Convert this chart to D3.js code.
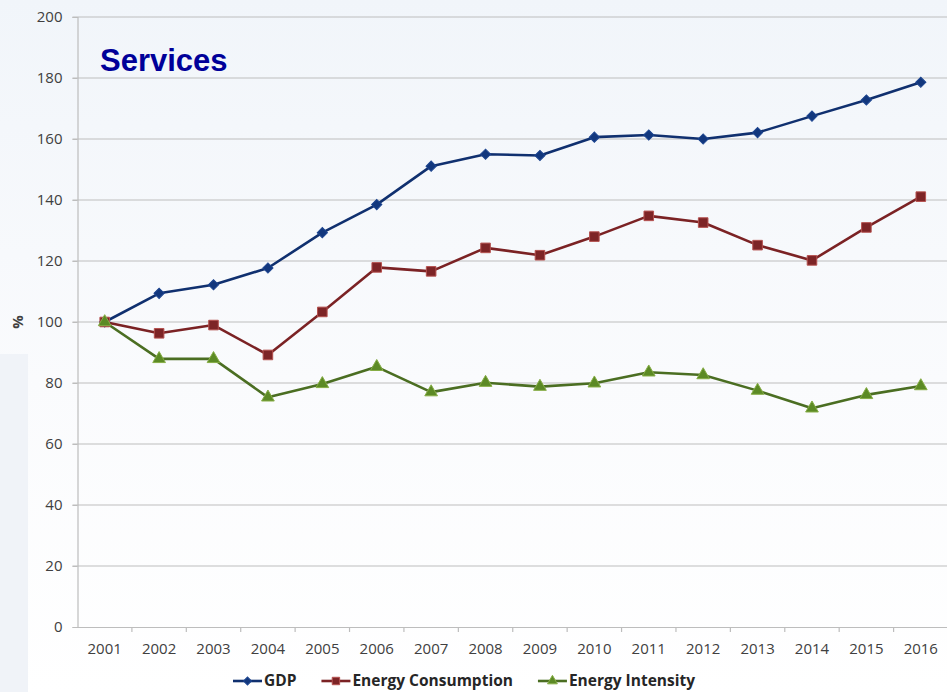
<!DOCTYPE html>
<html>
<head>
<meta charset="utf-8">
<script src="https://cdn.jsdelivr.net/npm/d3@7"></script>
<style>
  body { margin: 0; background: #ffffff; }
  svg { display: block; }
</style>
</head>
<body>
<div id="chart"></div>
<script>
// Services: GDP, energy consumption and energy intensity, index 2001 = 100
var years = ['2001', '2002', '2003', '2004', '2005', '2006', '2007', '2008',
  '2009', '2010', '2011', '2012', '2013', '2014', '2015', '2016'];
var gdp = [100, 109.4, 112.2, 117.7, 129.3, 138.5, 151.1, 155.0,
  154.6, 160.6, 161.3, 160.0, 162.1, 167.5, 172.8, 178.6];
var energy_consumption = [100, 96.3, 99.0, 89.2, 103.3, 117.9, 116.6, 124.3,
  121.9, 128.0, 134.8, 132.6, 125.2, 120.2, 131.0, 141.1];
var energy_intensity = [100, 87.9, 87.9, 75.3, 79.7, 85.3, 77.0, 80.1,
  78.8, 79.9, 83.5, 82.6, 77.5, 71.7, 76.1, 79.0];
var y_ticks = [0, 20, 40, 60, 80, 100, 120, 140, 160, 180, 200];
var series_names = ['GDP', 'Energy Consumption', 'Energy Intensity'];

var width = 947, height = 692;
var plot = {left: 77.5, right: 948, top: 17, bottom: 627};

// diamond = square turned 45 degrees
var series = [
  {name: series_names[0], values: gdp, line: '#10306f', fill: '#12377d', stroke: '#1d4590', symbol: d3.symbolSquare, size: 52, rotate: 45},
  {name: series_names[1], values: energy_consumption, line: '#7b2224', fill: '#7d2426', stroke: '#b5514f', symbol: d3.symbolSquare, size: 92, rotate: 0},
  {name: series_names[2], values: energy_intensity, line: '#4b6e22', fill: '#5c8a25', stroke: '#86ad45', symbol: d3.symbolTriangle, size: 70, rotate: 0}
];

var svg = d3.select('div#chart')
  .append('svg')
  .attr('width', width)
  .attr('height', height);

// slide-like background
var defs = svg.append('defs');
var grad = defs.append('linearGradient')
  .attr('id', 'bg')
  .attr('x1', 0).attr('y1', 0).attr('x2', 0).attr('y2', 1);
grad.append('stop').attr('offset', '0%').attr('stop-color', '#f1f5fa');
grad.append('stop').attr('offset', '55%').attr('stop-color', '#fafbfd');
grad.append('stop').attr('offset', '100%').attr('stop-color', '#ffffff');

svg.append('rect')
  .attr('width', width)
  .attr('height', height)
  .attr('fill', 'url(#bg)');

// faint panel peeking in at the left edge
svg.append('rect')
  .attr('x', 0).attr('y', 354)
  .attr('width', 28).attr('height', height - 354)
  .attr('fill', '#f0f3f8');

var x = d3.scaleBand()
  .domain(years)
  .range([plot.left, plot.right]);

var y = d3.scaleLinear()
  .domain([0, 200])
  .range([plot.bottom, plot.top]);

// gridlines
svg.append('g')
  .selectAll('line')
  .data(y_ticks.filter(function(d) { return d > 0; }))
  .enter()
  .append('line')
  .attr('x1', plot.left - 5)
  .attr('x2', width)
  .attr('y1', function(d) { return y(d); })
  .attr('y2', function(d) { return y(d); })
  .attr('stroke', '#bdbdbd')
  .attr('stroke-width', 1.2);

// y axis
var y_axis = svg.append('g')
  .attr('transform', 'translate(' + plot.left + ',0)')
  .call(d3.axisLeft(y).tickValues(y_ticks).tickSize(5).tickPadding(10));
y_axis.select('.domain').attr('stroke', '#bdbdbd').attr('stroke-width', 1.2);
y_axis.selectAll('.tick line').attr('stroke', '#bdbdbd');
y_axis.selectAll('text')
  .attr('font-family', 'Open Sans, sans-serif')
  .attr('font-size', '15px')
  .attr('fill', '#404040');

// x axis, ticks sit between the categories
var x_axis = svg.append('g')
  .attr('transform', 'translate(0,' + plot.bottom + ')')
  .call(d3.axisBottom(x).tickSize(0).tickPadding(16));
x_axis.select('.domain').attr('stroke', '#bdbdbd').attr('stroke-width', 1.2);
x_axis.selectAll('text')
  .attr('font-family', 'Open Sans, sans-serif')
  .attr('font-size', '15px')
  .attr('fill', '#404040');

svg.append('g')
  .selectAll('line')
  .data(years.slice(1))
  .enter()
  .append('line')
  .attr('x1', function(d) { return x(d); })
  .attr('x2', function(d) { return x(d); })
  .attr('y1', plot.bottom)
  .attr('y2', plot.bottom + 5)
  .attr('stroke', '#bdbdbd')
  .attr('stroke-width', 1.2);

// y axis title
svg.append('text')
  .attr('transform', 'translate(23,' + y(100) + ') rotate(-90)')
  .attr('text-anchor', 'middle')
  .attr('font-family', 'Open Sans, sans-serif')
  .attr('font-size', '15px')
  .attr('font-weight', 'bold')
  .attr('fill', '#404040')
  .text('%');

// lines and markers
var line = d3.line()
  .x(function(d, i) { return x(years[i]) + x.bandwidth() / 2; })
  .y(function(d) { return y(d); });

series.forEach(function(s) {
  svg.append('path')
    .datum(s.values)
    .attr('d', line)
    .attr('fill', 'none')
    .attr('stroke', s.line)
    .attr('stroke-width', 2.6)
    .attr('stroke-linejoin', 'round');
});

series.forEach(function(s) {
  svg.append('g')
    .selectAll('path')
    .data(s.values)
    .enter()
    .append('path')
    .attr('d', d3.symbol().type(s.symbol).size(s.size))
    .attr('transform', function(d, i) {
      return 'translate(' + (x(years[i]) + x.bandwidth() / 2) + ',' + y(d) + ') rotate(' + s.rotate + ')';
    })
    .attr('fill', s.fill)
    .attr('stroke', s.stroke)
    .attr('stroke-width', 1);
});

// title
svg.append('text')
  .attr('x', 100)
  .attr('y', 71)
  .attr('font-family', 'Liberation Sans, Arial, sans-serif')
  .attr('font-size', '31px')
  .attr('font-weight', 'bold')
  .attr('fill', '#000099')
  .text('Services');

// legend, pulled up a little so the descenders stay on the page
var legend = svg.append('g');
var cursor = 233;
var legend_y = 681;
series.forEach(function(s) {
  var item = legend.append('g');
  item.append('line')
    .attr('x1', cursor).attr('x2', cursor + 29)
    .attr('y1', legend_y).attr('y2', legend_y)
    .attr('stroke', s.line)
    .attr('stroke-width', 2.6);
  item.append('path')
    .attr('d', d3.symbol().type(s.symbol).size(s.size * 0.6))
    .attr('transform', 'translate(' + (cursor + 14.5) + ',' + legend_y + ') rotate(' + s.rotate + ')')
    .attr('fill', s.fill)
    .attr('stroke', s.stroke)
    .attr('stroke-width', 1);
  var label = item.append('text')
    .attr('x', cursor + 31)
    .attr('y', legend_y + 5)
    .attr('font-family', 'Open Sans, sans-serif')
    .attr('font-size', '15.5px')
    .attr('font-weight', 'bold')
    .attr('fill', '#262626')
    .text(s.name);
  cursor = cursor + 31 + label.node().getComputedTextLength() + 25;
});
</script>
</body>
</html>
